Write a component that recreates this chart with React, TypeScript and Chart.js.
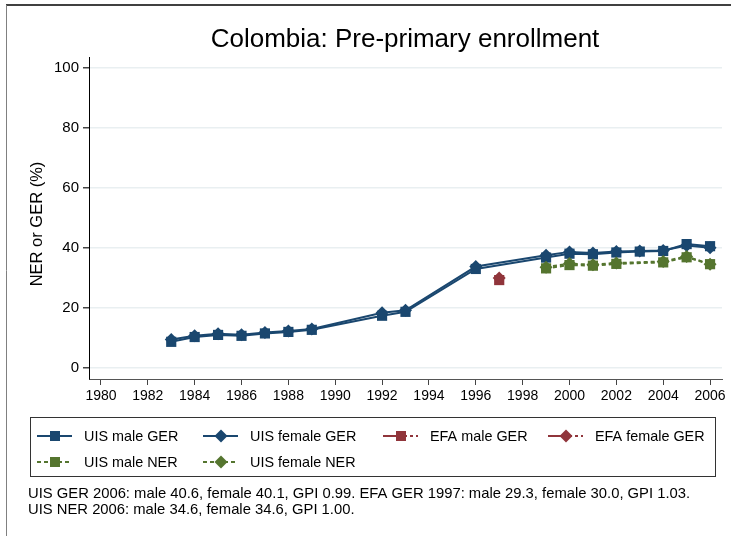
import React, { useEffect, useRef } from 'react';
import { Chart, registerables } from 'chart.js';

Chart.register(...registerables);

// ---------- data ----------
const gerYears = [1983, 1984, 1985, 1986, 1987, 1988, 1989, 1992, 1993, 1996, 1999, 2000, 2001, 2002, 2003, 2004, 2005, 2006];
const uisMaleGER = [8.7, 10.3, 11.0, 10.7, 11.5, 12.0, 12.7, 17.4, 18.7, 33.0, 36.8, 38.1, 37.9, 38.5, 38.8, 39.0, 41.3, 40.6];
const uisFemaleGER = [9.5, 10.7, 11.4, 11.1, 11.8, 12.3, 13.0, 18.4, 19.2, 33.8, 37.6, 38.7, 38.3, 38.8, 39.0, 39.2, 40.8, 40.1];
const efaYears = [1997];
const efaMaleGER = [29.3];
const efaFemaleGER = [30.0];
const nerYears = [1999, 2000, 2001, 2002, 2004, 2005, 2006];
const uisMaleNER = [33.2, 34.3, 34.1, 34.7, 35.2, 36.9, 34.6];
const uisFemaleNER = [33.6, 34.8, 34.4, 35.0, 35.5, 37.2, 34.6];

const xTickValues = [1980, 1982, 1984, 1986, 1988, 1990, 1992, 1994, 1996, 1998, 2000, 2002, 2004, 2006];
const yTickValues = [0, 20, 40, 60, 80, 100];

const titleText = 'Colombia: Pre-primary enrollment';
const yTitleText = 'NER or GER (%)';
const noteLines = [
  'UIS GER 2006: male 40.6, female 40.1, GPI 0.99. EFA GER 1997: male 29.3, female 30.0, GPI 1.03.',
  'UIS NER 2006: male 34.6, female 34.6, GPI 1.00.',
];
const legendLabels = ['UIS male GER', 'UIS female GER', 'EFA male GER', 'EFA female GER', 'UIS male NER', 'UIS female NER'];

const NAVY = '#1a476f';
const MAROON = '#90353b';
const GREEN = '#55752f';
const FONT = '"Liberation Sans", Arial, Helvetica, sans-serif';

const pts = (xs: number[], ys: number[]) => xs.map((x, i) => ({ x, y: ys[i] }));

const decorPlugin = {
  id: 'decor',
  afterDraw(chart: any) {
    const ctx = chart.ctx as CanvasRenderingContext2D;
    ctx.save();
    // frame
    ctx.strokeStyle = '#000';
    ctx.lineWidth = 1.5;
    ctx.beginPath();
    ctx.moveTo(6, 5);
    ctx.lineTo(731, 5);
    ctx.stroke();
    ctx.strokeStyle = '#808080';
    ctx.lineWidth = 1;
    ctx.beginPath();
    ctx.moveTo(6.5, 5);
    ctx.lineTo(6.5, 536);
    ctx.stroke();

    // title
    ctx.fillStyle = '#000';
    ctx.font = `26px ${FONT}`;
    ctx.textAlign = 'center';
    ctx.textBaseline = 'middle';
    ctx.fillText(titleText, 405, 40);

    // y title
    ctx.save();
    ctx.translate(37, 224);
    ctx.rotate(-Math.PI / 2);
    ctx.font = `16.5px ${FONT}`;
    ctx.fillText(yTitleText, 0, 0);
    ctx.restore();

    // legend box
    ctx.strokeStyle = '#333';
    ctx.lineWidth = 1;
    ctx.strokeRect(30.5, 417.5, 685, 59);
    const textX = [84, 250, 430, 595];
    const rowsY = [436, 462];
    ctx.font = `14.4px ${FONT}`;
    ctx.textAlign = 'left';
    legendLabels.forEach((label, di) => {
      const ds = chart.data.datasets[di];
      const col = di < 4 ? di : di - 4;
      const row = di < 4 ? 0 : 1;
      const tx = textX[col];
      const y = rowsY[row];
      const x0 = tx - 47;
      const x1 = tx - 12;
      const xm = tx - 29;
      ctx.strokeStyle = ds.borderColor;
      ctx.lineWidth = ds.borderWidth;
      ctx.setLineDash(ds.legendDash || []);
      ctx.beginPath();
      ctx.moveTo(x0, y);
      ctx.lineTo(x1, y);
      ctx.stroke();
      ctx.setLineDash([]);
      ctx.fillStyle = ds.pointBackgroundColor;
      if (ds.pointStyle === 'rect') {
        ctx.fillRect(xm - 5, y - 5, 10, 10);
      } else {
        const r = 6.5;
        ctx.beginPath();
        ctx.moveTo(xm, y - r);
        ctx.lineTo(xm + r, y);
        ctx.lineTo(xm, y + r);
        ctx.lineTo(xm - r, y);
        ctx.closePath();
        ctx.fill();
      }
      ctx.fillStyle = '#000';
      ctx.textBaseline = 'middle';
      ctx.fillText(label, tx, y + 1);
    });

    // notes
    ctx.font = `14.8px ${FONT}`;
    ctx.fillStyle = '#000';
    ctx.textBaseline = 'middle';
    noteLines.forEach((t, i) => ctx.fillText(t, 28, 494 + i * 16));
    ctx.restore();
  },
};

export default function App() {
  const ref = useRef<HTMLCanvasElement | null>(null);
  useEffect(() => {
    document.body.style.margin = '0';
    const canvas = ref.current;
    if (!canvas) return;
    Chart.defaults.font.family = FONT;
    const mk = (label: string, data: any[], color: string, style: string, r: number, dash: number[], legendDash: number[], order: number) => ({
      label,
      data,
      borderColor: color,
      backgroundColor: color,
      pointBackgroundColor: color,
      pointBorderColor: color,
      pointBorderWidth: 0,
      pointStyle: style,
      pointRadius: r,
      borderWidth: 2,
      borderDash: dash,
      legendDash,
      fill: false,
      tension: 0,
      order,
    });
    const chart = new Chart(canvas, {
      type: 'line',
      data: {
        datasets: [
          mk(legendLabels[0], pts(gerYears, uisMaleGER), NAVY, 'rect', 7.2, [], [], 6),
          mk(legendLabels[1], pts(gerYears, uisFemaleGER), NAVY, 'rectRot', 6.5, [], [], 5),
          mk(legendLabels[2], pts(efaYears, efaMaleGER), MAROON, 'rect', 7.2, [12, 4, 2, 4], [24, 3, 3, 3, 2, 10], 4),
          mk(legendLabels[3], pts(efaYears, efaFemaleGER), MAROON, 'rectRot', 6.5, [12, 4, 2, 4], [24, 3, 3, 3, 2, 10], 3),
          mk(legendLabels[4], pts(nerYears, uisMaleNER), GREEN, 'rect', 7.2, [4, 3], [4, 3], 2),
          mk(legendLabels[5], pts(nerYears, uisFemaleNER), GREEN, 'rectRot', 6.5, [4, 3], [4, 3], 1),
        ] as any,
      },
      options: {
        animation: false,
        responsive: false,
        devicePixelRatio: 1,
        layout: { padding: { left: 0, right: 9, top: 57, bottom: 0 } },
        plugins: { legend: { display: false }, tooltip: { enabled: false }, title: { display: false } },
        scales: {
          x: {
            type: 'linear',
            min: 1979.49,
            max: 2006.51,
            afterBuildTicks: (s: any) => { s.ticks = xTickValues.map((v) => ({ value: v })); },
            afterFit: (s: any) => { s.height = 157; },
            ticks: { color: '#000', font: { size: 14, family: FONT }, padding: 3, maxRotation: 0, autoSkip: false, callback: (v: any) => String(v) },
            grid: { drawOnChartArea: false, tickLength: 6, tickColor: '#444', lineWidth: 1 },
            border: { color: '#555', width: 1 },
          },
          y: {
            type: 'linear',
            min: -3.7,
            max: 103.7,
            afterBuildTicks: (s: any) => { s.ticks = yTickValues.map((v) => ({ value: v })); },
            afterFit: (s: any) => { s.width = 89; },
            ticks: { color: '#000', font: { size: 15, family: FONT }, padding: 4, callback: (v: any) => String(v) },
            grid: { color: '#e9eff1', lineWidth: 1.5, tickLength: 6, tickColor: '#444' },
            border: { color: '#000', width: 1 },
          },
        },
      } as any,
      plugins: [decorPlugin],
    });
    return () => chart.destroy();
  }, []);
  return (
    <div style={{ position: 'absolute', left: 0, top: 0, width: 731, height: 536, background: '#fff' }}>
      <canvas ref={ref} width={731} height={536} style={{ width: 731, height: 536, display: 'block' }} />
    </div>
  );
}
